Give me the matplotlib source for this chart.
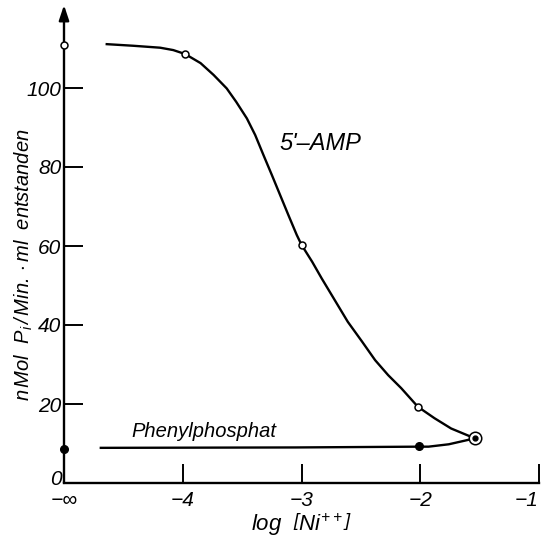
import numpy as np
import matplotlib.pyplot as plt
import matplotlib.transforms as mtransforms

plt.rcParams['font.family'] = ['Liberation Sans', 'DejaVu Sans']
plt.rcParams['font.style'] = 'italic'
plt.rcParams['mathtext.fontset'] = 'custom'
plt.rcParams['mathtext.it'] = 'Liberation Sans:italic'
plt.rcParams['mathtext.rm'] = 'Liberation Sans:italic'

# log [Ni++]; "-inf" is put at -5
amp_x = [-5, -3.98, -3.0, -2.02]
amp_y = [110.9, 108.6, 60.3, 19.3]
amp_curve_x = [-4.64, -4.42, -4.19, -4.08, -3.98, -3.85, -3.74, -3.63, -3.55, -3.46,
               -3.39, -3.32, -3.25, -3.18, -3.11, -3.04, -3.0, -2.91, -2.83, -2.72,
               -2.61, -2.49, -2.38, -2.27, -2.16, -2.02, -1.88, -1.74, -1.54]
amp_curve_y = [111.1, 110.7, 110.2, 109.6, 108.6, 106.3, 103.3, 99.9, 96.5, 92.3,
               88.1, 83.0, 78.0, 72.9, 67.8, 62.8, 60.3, 56.0, 51.8, 46.3,
               40.8, 35.8, 31.1, 27.3, 24.0, 19.3, 16.4, 13.8, 11.3]

phenyl_x = [-5, -2.01]
phenyl_y = [8.6, 9.4]
phenyl_curve_x = [-4.69, -3.05, -2.01, -1.93, -1.76, -1.54]
phenyl_curve_y = [8.9, 9.0, 9.2, 9.2, 9.8, 11.3]

both_x = [-1.54]
both_y = [11.3]

xticks = [-5, -4, -3, -2, -1]
xticklabels = ['\u2212\u221e', '\u22124', '\u22123', '\u22122', '\u22121']
yticks = [0, 20, 40, 60, 80, 100]

fig = plt.figure(figsize=(5.43, 5.37), dpi=100)
ax = fig.add_axes([64 / 543, 54 / 537, 475 / 543, 474 / 537])

ax.plot(amp_curve_x, amp_curve_y, color='black', lw=1.7, solid_joinstyle='round')
ax.plot(phenyl_curve_x, phenyl_curve_y, color='black', lw=1.7, solid_joinstyle='round')
ax.plot(amp_x, amp_y, 'o', ms=5, mfc='white', mec='black', mew=1.1, clip_on=False, zorder=5)
ax.plot(phenyl_x, phenyl_y, 'o', ms=5.5, color='black', clip_on=False, zorder=5)
ax.plot(both_x, both_y, 'o', ms=9, mfc='white', mec='black', mew=1.1, zorder=5)
ax.plot(both_x, both_y, 'o', ms=3.5, color='black', zorder=6)

ax.set_xlim(-5, -1)
ax.set_ylim(0, 120)

for s in ['top', 'right', 'left']:
    ax.spines[s].set_visible(False)
ax.spines['bottom'].set_linewidth(1.7)
ax.annotate('', xy=(-5, 121), xytext=(-5, 0),
            arrowprops=dict(arrowstyle='-|>,head_length=0.9,head_width=0.3', lw=1.7,
                            color='black', shrinkA=0, shrinkB=0),
            annotation_clip=False)

ax.set_xticks(xticks)
ax.set_xticklabels(xticklabels)
ax.set_yticks(yticks)
ax.tick_params(axis='both', direction='in', length=14, width=1.4, labelsize=15)
ax.tick_params(axis='x', pad=6)
ax.tick_params(axis='y', pad=2)
ax.get_xticklabels()[-1].set_horizontalalignment('right')
zero_lbl = ax.get_yticklabels()[0]
zero_lbl.set_transform(zero_lbl.get_transform() +
                       mtransforms.ScaledTranslation(0, 4 / 72, fig.dpi_scale_trans))

ax.set_xlabel(r'$log\ \ \left[Ni^{++}\right]$', fontsize=16, labelpad=1)
ax.set_ylabel(r'$n\,Mol\ \ P_i\,/\,Min.\cdot ml\ \ entstanden$', fontsize=14.5)
ax.yaxis.set_label_coords(-0.06, 0.46)

ax.text(-2.84, 86, "5'\u2013AMP", fontsize=17, ha='center', va='center')
ax.text(-3.82, 13.0, 'Phenylphosphat', fontsize=14.5, ha='center', va='center')

fig.savefig('out.png', dpi=100)
